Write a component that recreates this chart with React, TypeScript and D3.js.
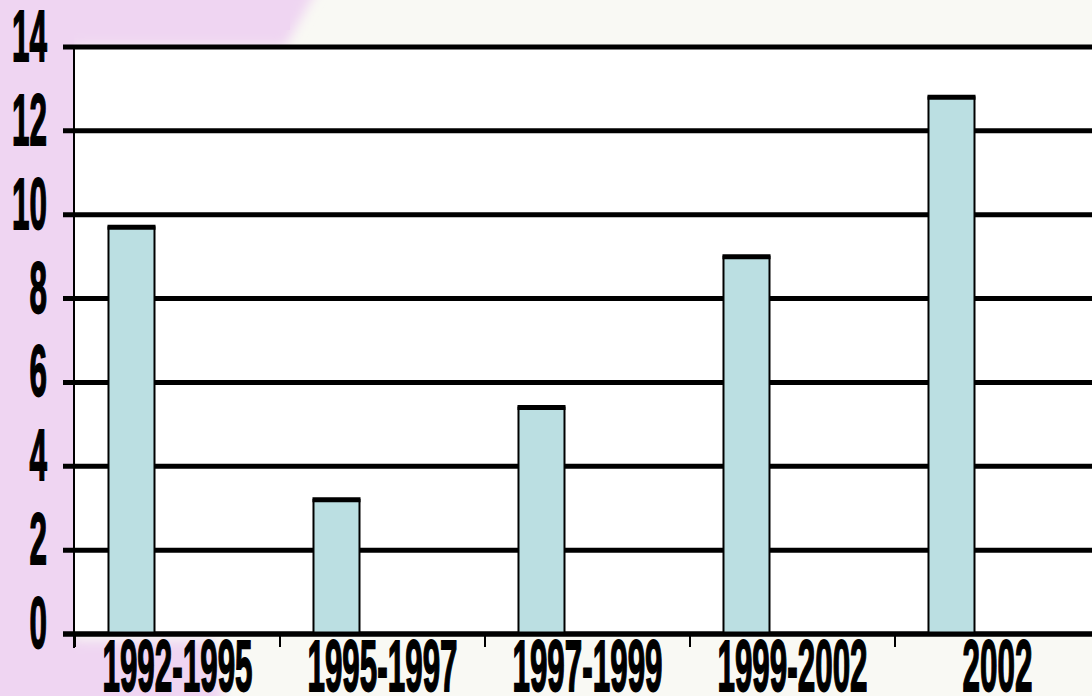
import React from "react";
import * as d3 from "d3";

const categories = ["1992-1995", "1995-1997", "1997-1999", "1999-2002", "2002"];
const values = [9.7, 3.2, 5.4, 9.0, 12.8];
const yTicks = [0, 2, 4, 6, 8, 10, 12, 14];
const slots = ["s1", "s2", "s3"];

const W = 1092;
const H = 696;

export default function App() {
  const y = d3.scaleLinear().domain([0, 14]).range([634, 47]);
  const x = d3.scaleBand<string>().domain(categories).range([75, 1100]).paddingInner(0).paddingOuter(0);
  const sub = d3.scaleBand<string>().domain(slots).range([0, x.bandwidth()]).paddingInner(0).paddingOuter(0.728);
  const sx = 0.43;
  const fs = 73;
  const font = "'Liberation Sans', Arial, sans-serif";
  const ticksX = [...categories.map((c) => x(c) as number), 1100];

  return (
    <svg width={W} height={H} style={{ position: "fixed", left: 0, top: 0, display: "block" }}>
      <defs>
        <filter id="soft" x="-20%" y="-20%" width="140%" height="140%">
          <feGaussianBlur stdDeviation="6" />
        </filter>
      </defs>
      <rect x={0} y={0} width={W} height={H} fill="#f9f9f4" />
      <g filter="url(#soft)">
        <polygon points="-20,-20 322,-20 285,47 74,47 74,640 215,640 225,720 -20,720" fill="#efd5f2" />
      </g>
      <rect x={0} y={0} width={74} height={H} fill="#efd5f2" />
      <rect x={0} y={0} width={290} height={30} fill="#efd5f2" />
      <rect x={74} y={47} width={W - 74} height={634 - 47} fill="#ffffff" />
      {yTicks.map((t) => (
        <line key={"g" + t} x1={63} x2={W} y1={y(t)} y2={y(t)} stroke="#000" strokeWidth={5} />
      ))}
      <line x1={74} x2={74} y1={y(14)} y2={y(0) + 14} stroke="#000" strokeWidth={2} />
      {ticksX.map((t, i) => (
        <line key={"xt" + i} x1={t} x2={t} y1={y(0)} y2={y(0) + 13} stroke="#000" strokeWidth={2} />
      ))}
      {categories.map((c, i) => {
        const bx = (x(c) as number) + (sub("s1") as number);
        const bw = sub.bandwidth();
        const top = y(values[i]);
        return (
          <g key={"b" + c}>
            <rect x={bx} y={top} width={bw} height={y(0) - top} fill="#bbdfe2" stroke="#000" strokeWidth={2} />
            <line x1={bx - 1} x2={bx + bw + 1} y1={top} y2={top} stroke="#000" strokeWidth={5} />
          </g>
        );
      })}
      <line x1={63} x2={W} y1={y(0)} y2={y(0)} stroke="#000" strokeWidth={5} />
      {yTicks.map((t) => (
        <text
          key={"yl" + t}
          transform={`translate(47,${y(t) + 14}) scale(${sx},1)`}
          textAnchor="end"
          fontFamily={font}
          fontWeight="bold"
          fontSize={fs}
          fill="#000"
          stroke="#000"
          strokeWidth={1.4}
          vectorEffect="non-scaling-stroke"
        >
          {t}
        </text>
      ))}
      {categories.map((c) => (
        <text
          key={"xl" + c}
          transform={`translate(${(x(c) as number) + x.bandwidth() / 2},691) scale(${sx},1)`}
          textAnchor="middle"
          fontFamily={font}
          fontWeight="bold"
          fontSize={fs}
          fill="#000"
          stroke="#000"
          strokeWidth={1.4}
          vectorEffect="non-scaling-stroke"
        >
          {c}
        </text>
      ))}
    </svg>
  );
}
